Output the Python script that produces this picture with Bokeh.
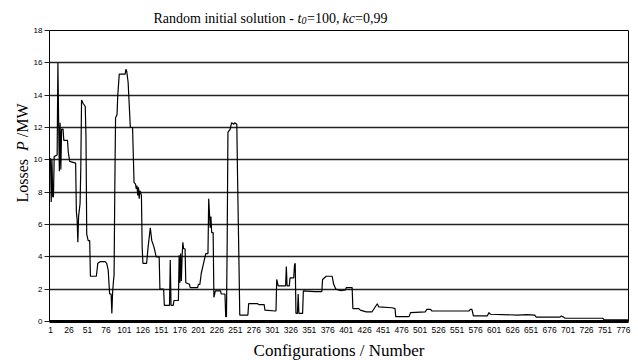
from bokeh.plotting import figure
from bokeh.models import Range1d, FixedTicker
from bokeh.layouts import column, row
from bokeh.core.properties import value
from bokeh.embed import file_html
from bokeh.resources import INLINE

# Configuration number (x) and losses P / MW (y)
config = [1, 2, 3, 4, 5, 6, 10, 11, 12, 13, 14, 15, 16, 18, 19, 24, 25, 27, 35, 36, 37, 38, 39, 41, 42, 43,
          45, 48, 49, 50, 52, 54, 55, 63, 65, 68, 75, 77, 79, 81, 83, 84, 85, 86, 87, 88, 89, 91, 92, 94,
          102, 103, 104, 106, 109, 112, 114, 116, 117, 118, 119, 120, 121, 122, 124, 125, 126, 131, 133,
          136, 138, 141, 144, 148, 149, 154, 155, 162, 163, 164, 167, 168, 174, 175, 176, 177, 178, 179,
          180, 181, 183, 184, 189, 190, 200, 201, 203, 205, 208, 211, 214, 215, 216, 217, 218, 219, 221,
          222, 224, 231, 232, 237, 238, 239, 240, 241, 244, 246, 249, 250, 253, 254, 256, 257, 268, 269,
          281, 283, 290, 291, 305, 306, 307, 309, 319, 320, 321, 324, 325, 330, 331, 332, 333, 335, 336,
          337, 342, 343, 358, 368, 369, 374, 382, 384, 387, 394, 400, 401, 409, 410, 418, 420, 428, 436,
          443, 445, 463, 467, 468, 486, 488, 508, 510, 515, 517, 567, 569, 571, 573, 592, 594, 596, 633,
          645, 656, 658, 690, 692, 695, 697, 748, 750, 782]
losses = [10.1, 7.4, 10.0, 7.7, 7.7, 10.2, 10.3, 16.0, 12.4, 9.3, 12.3, 9.4, 11.9, 11.9, 11.2, 11.2, 10.5,
          9.9, 9.8, 6.8, 6.3, 4.9, 6.5, 7.3, 9.5, 13.7, 13.5, 13.3, 11.4, 5.4, 5.0, 5.0, 2.8, 2.8, 3.6,
          3.7, 3.7, 3.6, 3.2, 1.7, 1.7, 0.5, 1.8, 2.4, 2.9, 8.3, 12.6, 12.8, 14.0, 15.3, 15.3, 15.6, 15.5,
          14.8, 12.0, 12.0, 8.6, 8.5, 8.2, 8.4, 7.8, 8.3, 7.6, 8.1, 7.8, 4.6, 3.6, 3.6, 4.6, 5.8, 5.0,
          4.6, 4.0, 4.0, 2.0, 2.0, 1.0, 1.0, 3.8, 1.0, 1.0, 1.3, 1.3, 4.1, 2.4, 4.2, 2.5, 4.0, 4.9, 4.5,
          4.5, 2.4, 2.3, 2.1, 2.1, 2.3, 2.3, 3.0, 3.6, 4.2, 4.2, 7.6, 6.7, 5.8, 6.5, 5.5, 5.5, 1.5, 1.9,
          1.9, 1.7, 1.7, 0.3, 0.3, 5.0, 11.7, 11.9, 12.3, 12.2, 12.3, 12.2, 9.0, 3.4, 0.4, 0.4, 1.1, 1.1,
          1.05, 1.05, 0.7, 0.65, 0.65, 2.6, 2.2, 2.2, 3.4, 2.2, 2.2, 2.7, 2.7, 3.5, 3.6, 0.5, 0.5, 1.7,
          0.5, 0.5, 1.9, 1.85, 1.85, 2.6, 2.8, 2.8, 2.3, 2.0, 1.9, 1.95, 2.1, 2.1, 0.8, 0.8, 0.7, 0.6,
          0.6, 1.1, 0.9, 0.85, 0.8, 0.3, 0.3, 0.55, 0.6, 0.75, 0.75, 0.65, 0.65, 0.75, 0.75, 0.35, 0.35,
          0.55, 0.45, 0.4, 0.42, 0.4, 0.27, 0.27, 0.34, 0.27, 0.2, 0.2, 0.1, 0.1]

x_ticks = [1, 26, 51, 76, 101, 126, 151, 176, 201, 226, 251, 276, 301, 326, 351, 376, 401, 426, 451,
           476, 501, 526, 551, 576, 601, 626, 651, 676, 701, 726, 751, 776]
y_ticks = [0, 2, 4, 6, 8, 10, 12, 14, 16, 18]
grid_ticks = [2, 4, 6, 8, 10, 12, 14, 16]

SERIF = "Liberation Serif"
W, H = 638, 360
TOP_H, LEFT_W, BOT_H = 25, 30, 23
MAIN_H = H - TOP_H - BOT_H          # 312 -> frame 30..321
MAIN_W = W - LEFT_W                 # 608


def text_fig(width, height):
    f = figure(width=width, height=height, output_backend="svg", toolbar_location=None,
               x_range=Range1d(0, width), y_range=Range1d(0, height),
               x_axis_type=None, y_axis_type=None, title=None, frame_align=False,
               min_border_left=0, min_border_right=0, min_border_top=0, min_border_bottom=0)
    f.outline_line_color = None
    f.background_fill_color = "white"
    f.border_fill_color = "white"
    f.xgrid.visible = False
    f.ygrid.visible = False
    return f


# ---------- main chart ----------
p = figure(width=MAIN_W, height=MAIN_H, output_backend="svg", toolbar_location=None,
           x_range=Range1d(-0.35, 782.8), y_range=Range1d(0, 18), frame_align=False,
           min_border_left=18, min_border_right=10, min_border_top=5, min_border_bottom=16)
p.background_fill_color = "white"
p.border_fill_color = "white"
p.outline_line_color = "black"
p.outline_line_width = 1

p.line(config, losses, line_color="black", line_width=1.2)

xa = p.xaxis[0]
xa.ticker = FixedTicker(ticks=x_ticks)
xa.major_tick_out = 0
xa.major_tick_in = 0
xa.minor_tick_out = 0
xa.minor_tick_in = 0
xa.axis_line_width = 3
xa.axis_line_color = "black"
xa.major_label_standoff = 5
xa.major_label_text_font = "Liberation Sans"
xa.major_label_text_font_size = "8.5px"
xa.major_label_text_color = "black"
p.xgrid.visible = False

ya = p.yaxis[0]
ya.ticker = FixedTicker(ticks=y_ticks)
ya.major_tick_out = 5
ya.major_tick_in = 0
ya.minor_tick_out = 0
ya.minor_tick_in = 0
ya.major_tick_line_color = "#222222"
ya.axis_line_color = "black"
ya.major_label_standoff = 2
ya.major_label_text_font = "Liberation Sans"
ya.major_label_text_font_size = "8px"
ya.major_label_text_color = "black"
p.ygrid.ticker = FixedTicker(ticks=grid_ticks)
p.ygrid.grid_line_color = "#222222"
p.ygrid.grid_line_width = 1.3

# ---------- title strip ----------
t = text_fig(W, TOP_H)
title_parts = [
    ("Random initial solution -", 153, 17.5, "normal", "14px"),
    ("t", 297, 17.5, "italic", "14px"),
    ("0", 301, 20.0, "italic", "10px"),
    ("=100,", 306.5, 17.5, "normal", "14px"),
    ("kc", 342, 17.5, "italic", "14px"),
    ("=0,99", 354.5, 17.5, "normal", "14px"),
]
for txt, px, py, style, size in title_parts:
    t.text(x=[px], y=[TOP_H - py], text=[txt], text_font=value(SERIF), text_font_size=value(size),
           text_font_style=value(style), text_color="black", text_align="left",
           text_baseline="alphabetic")

# ---------- y-axis title strip ----------
yl = text_fig(LEFT_W, MAIN_H)
ylab_parts = [
    ("Losses", 202, "normal"),
    ("P", 150.5, "italic"),
    ("/MW", 136.7, "normal"),
]
for txt, py, style in ylab_parts:
    yl.text(x=[22], y=[TOP_H + MAIN_H - py], text=[txt], text_font=value(SERIF),
            text_font_size=value("16px"), text_font_style=value(style), text_color="black",
            text_align="left", text_baseline="middle", angle=1.5707963)

# ---------- x-axis title strip ----------
xl = text_fig(W, BOT_H)
xl.text(x=[338.5], y=[H - 350.3], text=["Configurations / Number"], text_font=value(SERIF),
        text_font_size=value("17px"), text_color="black", text_align="center",
        text_baseline="alphabetic")

layout = column(t, row(yl, p, spacing=0), xl, spacing=0)
open("out.html", "w").write(file_html(layout, INLINE))
